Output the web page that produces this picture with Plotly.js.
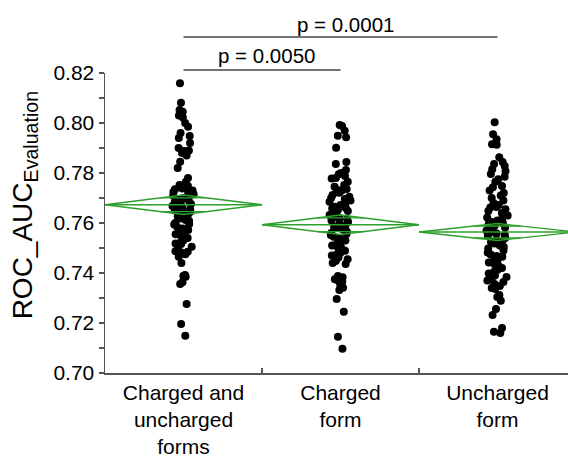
<!DOCTYPE html>
<html>
<head>
<meta charset="utf-8">
<script src="https://cdn.plot.ly/plotly-3.0.1.min.js"></script>
<style>html,body{margin:0;padding:0;background:#fff;}#chart{width:568px;height:456px;}</style>
</head>
<body>
<div id="chart"></div>
<script>
// ---- data ----
const categories = ["Charged and<br>uncharged<br>forms", "Charged<br>form", "Uncharged<br>form"];

const chargedAndUncharged = [0.8159, 0.8081, 0.8052, 0.8045, 0.8030, 0.8022, 0.8000, 0.7985, 0.7960, 0.7948,
  0.7940, 0.7920, 0.7900, 0.7890, 0.7888, 0.7880, 0.7870, 0.7845, 0.7820, 0.7780, 0.7765, 0.7752, 0.7748,
  0.7744, 0.7740, 0.7738, 0.7735, 0.7730, 0.7725, 0.7720, 0.7715, 0.7710, 0.7705, 0.7700, 0.7696, 0.7690,
  0.7685, 0.7680, 0.7676, 0.7672, 0.7668, 0.7665, 0.7660, 0.7655, 0.7650, 0.7645, 0.7640, 0.7632, 0.7625,
  0.7618, 0.7612, 0.7608, 0.7600, 0.7596, 0.7594, 0.7585, 0.7578, 0.7572, 0.7570, 0.7562, 0.7555, 0.7550,
  0.7545, 0.7540, 0.7530, 0.7522, 0.7518, 0.7516, 0.7505, 0.7495, 0.7487, 0.7485, 0.7482, 0.7475, 0.7465,
  0.7440, 0.7392, 0.7388, 0.7385, 0.7363, 0.7356, 0.7276, 0.7196, 0.7149];

const chargedForm = [0.7992, 0.7988, 0.7969, 0.7949, 0.7943, 0.7901, 0.7844, 0.7836, 0.7812, 0.7800, 0.7795,
  0.7788, 0.7780, 0.7778, 0.7765, 0.7752, 0.7745, 0.7736, 0.7734, 0.7730, 0.7721, 0.7712, 0.7705, 0.7700,
  0.7696, 0.7690, 0.7685, 0.7680, 0.7672, 0.7665, 0.7660, 0.7658, 0.7652, 0.7648, 0.7640, 0.7632, 0.7625,
  0.7620, 0.7615, 0.7610, 0.7604, 0.7598, 0.7590, 0.7584, 0.7580, 0.7574, 0.7565, 0.7560, 0.7556, 0.7552,
  0.7545, 0.7538, 0.7530, 0.7522, 0.7516, 0.7510, 0.7504, 0.7498, 0.7489, 0.7480, 0.7476, 0.7470, 0.7462,
  0.7455, 0.7448, 0.7440, 0.7436, 0.7388, 0.7383, 0.7375, 0.7369, 0.7365, 0.7352, 0.7341, 0.7332, 0.7296,
  0.7245, 0.7145, 0.7097];

const unchargedForm = [0.8003, 0.7955, 0.7935, 0.7915, 0.7913, 0.7863, 0.7844, 0.7836, 0.7828, 0.7815, 0.7807,
  0.7796, 0.7785, 0.7775, 0.7765, 0.7748, 0.7743, 0.7730, 0.7720, 0.7710, 0.7700, 0.7690, 0.7680, 0.7672,
  0.7664, 0.7662, 0.7655, 0.7648, 0.7640, 0.7630, 0.7622, 0.7616, 0.7610, 0.7604, 0.7600, 0.7596, 0.7590,
  0.7582, 0.7575, 0.7570, 0.7564, 0.7558, 0.7552, 0.7548, 0.7540, 0.7534, 0.7528, 0.7524, 0.7518, 0.7510,
  0.7504, 0.7498, 0.7490, 0.7482, 0.7474, 0.7468, 0.7465, 0.7458, 0.7450, 0.7442, 0.7435, 0.7428, 0.7420,
  0.7412, 0.7405, 0.7398, 0.7390, 0.7384, 0.7376, 0.7370, 0.7364, 0.7356, 0.7348, 0.7340, 0.7336, 0.7312,
  0.7304, 0.7289, 0.7256, 0.7232, 0.7180, 0.7165, 0.7160];

const groupMeans = [0.7673, 0.7593, 0.7564];
const groupHalfCI = [0.0039, 0.0039, 0.0034];

const comparisonPairs = [[0, 1], [0, 2]];
const comparisonLabels = ["p = 0.0050", "p = 0.0001"];

const yTitle = "ROC_AUC<sub>Evaluation</sub>";

// ---- build traces ----
const groups = [chargedAndUncharged, chargedForm, unchargedForm];
const green = "#2ca02c";
const traces = [];

groups.forEach((vals, i) => {
  traces.push({
    type: "box",
    x: vals.map(() => i),
    y: vals,
    boxpoints: "all",
    jitter: 0.3,
    pointpos: 0,
    fillcolor: "rgba(0,0,0,0)",
    line: {color: "rgba(0,0,0,0)", width: 0},
    whiskerwidth: 0,
    marker: {color: "#000", size: 8, line: {width: 0}},
    hoverinfo: "y",
    showlegend: false
  });
});

groups.forEach((vals, i) => {
  const m = groupMeans[i], h = groupHalfCI[i];
  const o = h / Math.SQRT2;
  const w = 0.5 * (1 - 1 / Math.SQRT2);
  traces.push({
    type: "scatter", mode: "lines",
    x: [i - 0.5, i, i + 0.5, i, i - 0.5],
    y: [m, m + h, m, m - h, m],
    line: {color: green, width: 1.4},
    hoverinfo: "skip", showlegend: false
  });
  traces.push({
    type: "scatter", mode: "lines",
    x: [i - 0.5, i + 0.5, null, i - w, i + w, null, i - w, i + w],
    y: [m, m, null, m + o, m + o, null, m - o, m - o],
    line: {color: green, width: 1.4},
    hoverinfo: "skip", showlegend: false
  });
});

const shapes = [];
const annotations = [];
const lineLevels = [1.01, 1.12];
const textLevels = [1.057, 1.162];
comparisonPairs.forEach((p, k) => {
  shapes.push({
    type: "line", xref: "x", yref: "paper",
    x0: p[0], x1: p[1], y0: lineLevels[k], y1: lineLevels[k],
    line: {color: "#444", width: 1.3}
  });
  annotations.push({
    xref: "x", yref: "paper",
    x: (p[0] + p[1]) / 2 + 0.03, y: textLevels[k],
    text: comparisonLabels[k], showarrow: false,
    xanchor: "center", yanchor: "middle",
    font: {family: "Liberation Sans, Arial, sans-serif", size: 20.5, color: "#000"}
  });
});

// y axis title as rotated annotation (for precise placement)
annotations.push({
  xref: "paper", yref: "paper",
  x: -0.172, y: 0.56,
  xanchor: "center", yanchor: "middle",
  textangle: -90,
  text: yTitle, showarrow: false,
  font: {family: "Liberation Sans, Arial, sans-serif", size: 28, color: "#000"}
});

const layout = {
  width: 568, height: 456,
  margin: {l: 105, r: 0, t: 73, b: 83, pad: 0},
  paper_bgcolor: "#fff", plot_bgcolor: "#fff",
  font: {family: "Liberation Sans, Arial, sans-serif", size: 21, color: "#000"},
  showlegend: false,
  boxmode: "overlay",
  xaxis: {
    type: "linear",
    range: [-0.5, 2.449],
    tickmode: "array",
    tickvals: [0, 1, 2],
    ticktext: categories,
    ticks: "",
    showgrid: false, zeroline: false,
    showline: true, linecolor: "#555", linewidth: 1.5,
    tickfont: {size: 21},
    minor: {tickmode: "array", tickvals: [0.5, 1.5], ticks: "inside", ticklen: 5, tickcolor: "#555", tickwidth: 1.2, showgrid: false}
  },
  yaxis: {
    range: [0.70, 0.82],
    tickmode: "linear", tick0: 0.70, dtick: 0.02,
    tickformat: ".2f",
    ticks: "outside", ticklen: 5, tickcolor: "#555", tickwidth: 1.2,
    minor: {dtick: 0.01, ticks: "outside", ticklen: 5, tickcolor: "#555", tickwidth: 1.2, showgrid: false},
    showgrid: false, zeroline: false,
    showline: true, linecolor: "#555", linewidth: 1.5,
    tickfont: {size: 21}
  },
  shapes: shapes,
  annotations: annotations
};

Plotly.newPlot("chart", traces, layout, {displayModeBar: false, staticPlot: true});
</script>
</body>
</html>
